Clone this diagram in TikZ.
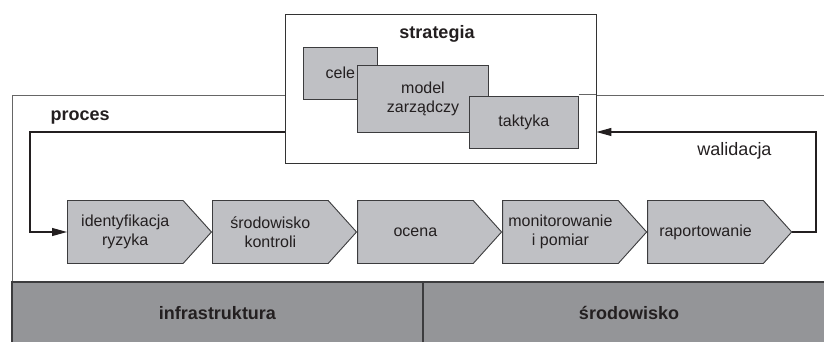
\documentclass[tikz,border=0pt]{standalone}
\usepackage{fontspec}
\setmainfont{Liberation Sans}
\usetikzlibrary{positioning,arrows.meta,shapes.symbols,calc}

\definecolor{boxgray}{RGB}{191,192,196}
\definecolor{bargray}{RGB}{148,149,152}
\definecolor{edgegray}{RGB}{60,60,62}
\definecolor{ink}{RGB}{35,31,32}

\begin{document}
\begin{tikzpicture}[
    x=1pt, y=-1pt,
    font=\fontsize{16}{19}\selectfont, text=ink,
    box/.style={rectangle, draw=edgegray, line width=0.9pt, fill=boxgray, inner sep=0pt, align=center},
    stage/.style={signal, signal to=east, signal pointer angle=96, draw=edgegray, line width=0.9pt, fill=boxgray, minimum width=144pt, minimum height=63pt, inner sep=0pt, align=center},
    bar/.style={rectangle, draw=edgegray, line width=1.5pt, fill=bargray, minimum height=62pt, font=\bfseries\fontsize{18}{21}\selectfont},
    frame/.style={draw=black!60, line width=0.9pt},
    arr/.style={-{Triangle[length=15pt, width=8pt]}, line width=1.1pt, draw=ink},
    title/.style={font=\bfseries\fontsize{18}{21}\selectfont}
]
\useasboundingbox (0,0) rectangle (824,342);
\clip (0,0) rectangle (824,342);

% Process frame (runs off the right and bottom)
\node[rectangle, frame, minimum width=828pt, minimum height=265pt, inner sep=0pt] (proc) at (426,227.5) {};

% Strategy block
\node[rectangle, draw=black!80, line width=0.9pt, fill=white, minimum width=311pt, minimum height=149pt] (strat) at (440.5,88.5) {};
\node[title] (strattitle) at (437,34) {strategia};
\node[box, minimum width=74pt, minimum height=51.7pt] (cele) at (340.3,73.2) {cele};
\node[box, minimum width=130.3pt, minimum height=67pt] (model) at (423,98.8) {model\\zarządczy};
\node[box, minimum width=109pt, minimum height=51.6pt] (takt) at (523.8,122.5) {taktyka};
\draw[frame] (proc.north -| takt.east) -- (proc.north -| strat.east);

% Process stages
\node[stage, anchor=west] (s1) at (67,232) {identyfikacja\\ryzyka};
\node[stage, right=0pt of s1] (s2) {środowisko\\kontroli};
\node[stage, right=0pt of s2] (s3) {ocena};
\node[stage, right=0pt of s3] (s4) {monitorowanie\\i pomiar};
\node[stage, right=0pt of s4] (s5) {raportowanie};

% Foundation bars
\node[bar, minimum width=411pt] (infra) at (217.5,313) {infrastruktura};
\node[bar, minimum width=412pt] (env) at (629,313) {środowisko};

% Labels
\node[title, anchor=west] (proclabel) at (47,118) {proces};
\node[font=\fontsize{18}{21}\selectfont] (walid) at (734.5,151) {walidacja};

% Loops
\coordinate (lbend) at (30,132);
\coordinate (rbend) at (816,132);
\draw[arr] (strat.west |- lbend) -- (lbend) |- (s1.west);
\draw[arr] (s5.east) -| (rbend) -- (strat.east |- rbend);

\end{tikzpicture}
\end{document}
